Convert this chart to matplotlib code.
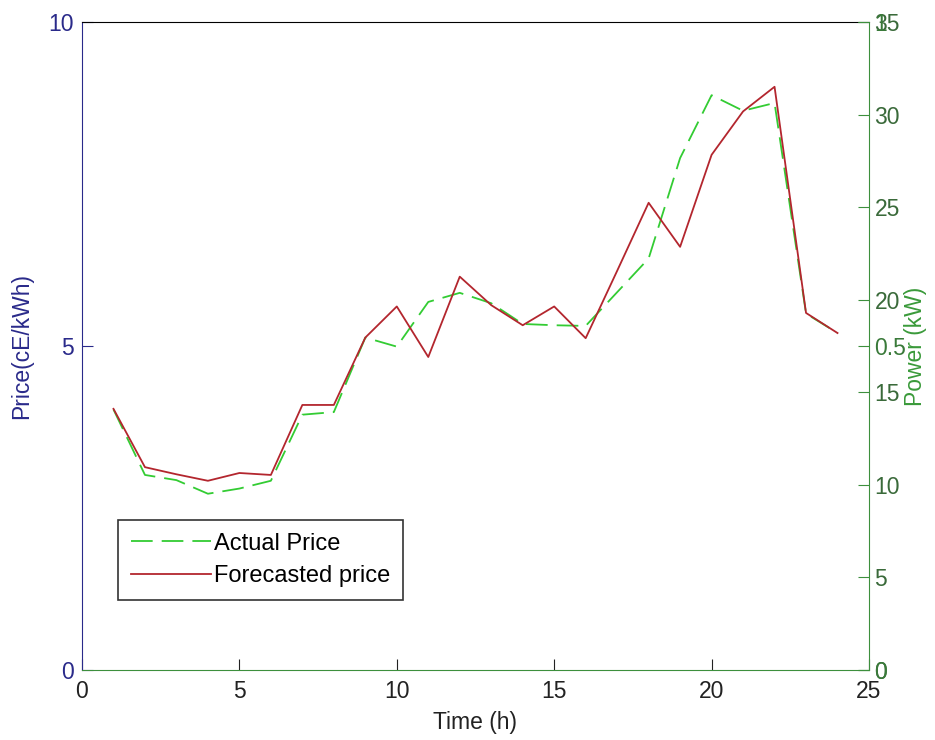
import matplotlib
matplotlib.use("Agg")
import matplotlib.pyplot as plt

plt.rcParams['font.family'] = ['Liberation Sans', 'DejaVu Sans']

hours = list(range(1, 25))
actual_price = [4.02, 3.01, 2.93, 2.72, 2.80, 2.92, 3.94, 3.98, 5.13, 4.99, 5.68, 5.82,
                5.66, 5.34, 5.32, 5.31, 5.83, 6.35, 7.90, 8.87, 8.63, 8.75, 5.50, 5.20]
forecast_price = [4.03, 3.13, 3.02, 2.92, 3.04, 3.01, 4.09, 4.09, 5.13, 5.61, 4.83, 6.07,
                  5.63, 5.32, 5.61, 5.12, 6.16, 7.21, 6.53, 7.95, 8.62, 9.00, 5.51, 5.20]
x_ticks = [0, 5, 10, 15, 20, 25]
price_ticks = [0, 5, 10]
power_ticks = [0, 5, 10, 15, 20, 25, 30, 35]
frac_ticks = [0, 0.5, 1]
frac_labels = ["0", "0.5", "1"]

navy = '#2a2a8a'
green = '#3d8f3d'
fs = 16.5

fig = plt.figure(figsize=(9.35, 7.4), dpi=100)
ax = fig.add_axes([0.0877, 0.0946, 0.9294 - 0.0877, 0.9703 - 0.0946])

ax.plot(hours, actual_price, color='#33cc33', lw=1.3, dashes=(12, 5), label='Actual Price')
ax.plot(hours, forecast_price, color='#b3262e', lw=1.3, label='Forecasted price')

ax.set_xlim(0, 25)
ax.set_ylim(0, 10)
ax.set_xticks(x_ticks)
ax.set_yticks(price_ticks)
ax.tick_params(axis='x', direction='in', length=8, pad=7, labelsize=fs, colors='#222222')
ax.tick_params(axis='y', direction='in', length=8, pad=6, labelsize=fs, colors=navy)
ax.spines['left'].set_color(navy)
ax.spines['top'].set_color('black')
ax.spines['bottom'].set_color(green)
ax.spines['right'].set_visible(False)
ax.set_ylabel('Price(cE/kWh)', color=navy, fontsize=fs, labelpad=11)
ax.set_xlabel('Time (h)', fontsize=fs, color='#222222', labelpad=6)

leg = ax.legend(loc='upper left', bbox_to_anchor=(0.046, 0.232), fontsize=fs + 0.5,
                frameon=True, fancybox=False, edgecolor='black', handlelength=3.4,
                handletextpad=0.1, labelspacing=0.45, borderpad=0.55, borderaxespad=0)
leg.get_frame().set_linewidth(1.2)

ax2 = ax.twinx()
ax2.set_ylim(0, 35)
ax2.set_yticks(power_ticks)
ax2.tick_params(axis='y', direction='in', length=8, pad=4, labelsize=fs, colors=green)
for lbl in ax2.get_yticklabels():
    lbl.set_color('#3a6a3a')
for s in ['left', 'top', 'bottom']:
    ax2.spines[s].set_visible(False)
ax2.spines['right'].set_color(green)
ax2.set_ylabel('Power (kW)', color='#3a9a3a', fontsize=fs, labelpad=3)

ax3 = ax.twinx()
ax3.set_ylim(0, 1)
ax3.set_yticks(frac_ticks)
ax3.set_yticklabels(frac_labels)
ax3.tick_params(axis='y', direction='in', length=8, pad=4, labelsize=fs, colors=green)
for lbl in ax3.get_yticklabels():
    lbl.set_color('#3a7a3a')
for s in ax3.spines.values():
    s.set_visible(False)

fig.savefig('out.png', dpi=100, facecolor='white')
